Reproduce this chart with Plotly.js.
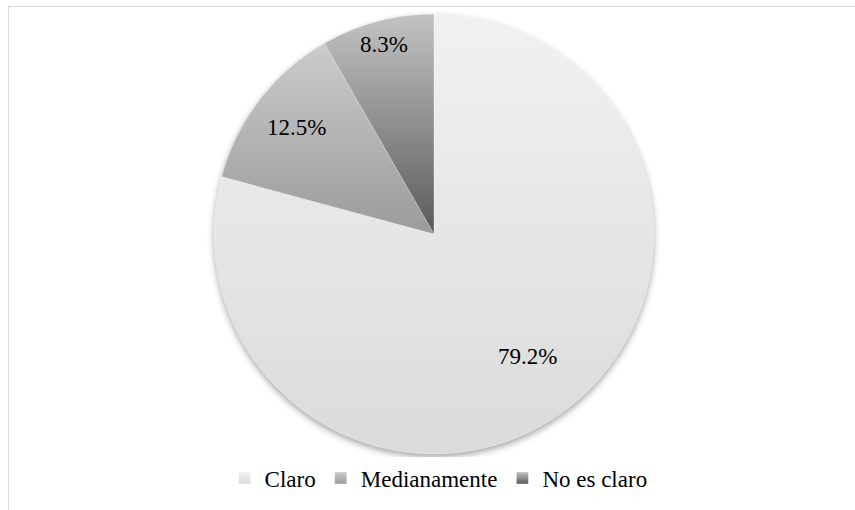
<!DOCTYPE html>
<html>
<head>
<meta charset="utf-8">
<script src="https://cdn.plot.ly/plotly-3.0.1.min.js"></script>
<style>
html,body{margin:0;padding:0;background:#fff;overflow:hidden;}
#chart{width:855px;height:510px;position:absolute;left:0;top:0;}
#frame{position:absolute;left:8px;top:6px;width:900px;height:600px;border-left:1.5px solid #d9d9d9;border-top:1.5px solid #d9d9d9;pointer-events:none;}
#chart .pielayer{filter:drop-shadow(0px 3px 3px rgba(0,0,0,0.35));}
</style>
</head>
<body>
<div id="chart"></div>
<div id="frame"></div>
<script>
var categories = ["Claro", "Medianamente", "No es claro"];
var percentages = [79.2, 12.5, 8.3];
var sliceColors = ["#e8e8e8", "#b3b3b3", "#8e8e8e"];
var gradTop = ["#f1f1f1", "#cbcbcb", "#c3c3c3"];
var gradBottom = ["#dbdbdb", "#9b9b9b", "#5a5a5a"];
var labelRadius = [0.70, 0.79, 0.89];

var W = 855, H = 510, cx = 434, cy = 234, r = 220;
var FONT = "Liberation Serif";

var trace = {
  type: "pie",
  labels: categories,
  values: percentages,
  sort: false,
  direction: "clockwise",
  rotation: 0,
  textinfo: "none",
  hoverinfo: "label+percent",
  marker: {colors: sliceColors, line: {color: "rgba(255,255,255,0.6)", width: 0.5}},
  domain: {x: [(cx - r) / W, (cx + r) / W], y: [(H - cy - r) / H, (H - cy + r) / H]}
};

// label annotations placed from the data (mid-angle of each slice)
var total = percentages.reduce(function(a, b){ return a + b; }, 0);
var cum = 0;
var annotations = percentages.map(function(v, i){
  var mid = (cum + v / 2) / total * 2 * Math.PI;
  cum += v;
  var d = labelRadius[i] * r;
  var px = cx + d * Math.sin(mid);
  var py = cy - d * Math.cos(mid);
  return {
    xref: "paper", yref: "paper",
    x: px / W, y: (H - py) / H,
    xanchor: "center", yanchor: "middle",
    showarrow: false,
    text: v.toFixed(1) + "%",
    font: {family: FONT, size: 23, color: "#000"}
  };
});

var layout = {
  width: W, height: H,
  margin: {l: 0, r: 0, t: 0, b: 0},
  paper_bgcolor: "#fff",
  showlegend: true,
  annotations: annotations,
  legend: {
    orientation: "h",
    x: 0.513, xanchor: "center",
    y: (H - 478) / H, yanchor: "middle",
    font: {family: FONT, size: 23, color: "#000"},
    itemwidth: 30,
    traceorder: "normal"
  }
};

Plotly.newPlot("chart", [trace], layout, {displayModeBar: false, staticPlot: true}).then(function(gd){
  var svg = gd.querySelector("svg.main-svg");
  var ns = "http://www.w3.org/2000/svg";
  var defs = svg.querySelector("defs") || svg.insertBefore(document.createElementNS(ns, "defs"), svg.firstChild);
  categories.forEach(function(c, i){
    var lg = document.createElementNS(ns, "linearGradient");
    lg.setAttribute("id", "sliceGrad" + i);
    lg.setAttribute("x1", "0"); lg.setAttribute("y1", "0");
    lg.setAttribute("x2", "0"); lg.setAttribute("y2", "1");
    var s1 = document.createElementNS(ns, "stop");
    s1.setAttribute("offset", "0"); s1.setAttribute("stop-color", gradTop[i]);
    var s2 = document.createElementNS(ns, "stop");
    s2.setAttribute("offset", "1"); s2.setAttribute("stop-color", gradBottom[i]);
    lg.appendChild(s1); lg.appendChild(s2);
    defs.appendChild(lg);
  });
  var slices = gd.querySelectorAll(".pielayer .slice path.surface");
  slices.forEach(function(p, i){ p.style.fill = "url(#sliceGrad" + i + ")"; });
  var legendPaths = gd.querySelectorAll(".legend .traces .legendpoints path");
  legendPaths.forEach(function(p, i){ p.style.fill = "url(#sliceGrad" + (i % categories.length) + ")"; });
});
</script>
</body>
</html>
